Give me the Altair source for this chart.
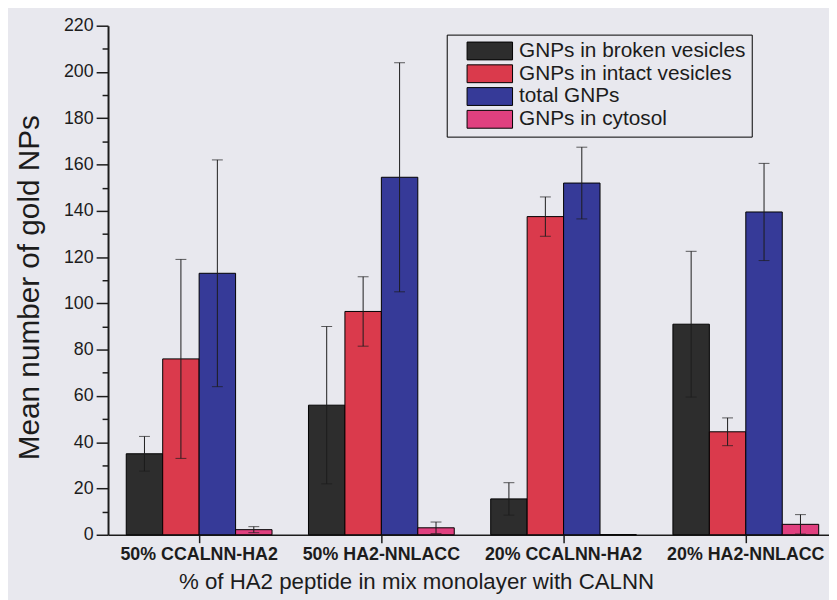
import altair as alt
import pandas as pd

groups = ["50% CCALNN-HA2", "50% HA2-NNLACC", "20% CCALNN-HA2", "20% HA2-NNLACC"]
series = ["GNPs in broken vesicles", "GNPs in intact vesicles", "total GNPs", "GNPs in cytosol"]
colors = ["#2d2d2d", "#da3a4c", "#363a98", "#e0407f"]

broken = [35, 56, 15.5, 91]
broken_err = [7.5, 34, 7, 31.5]
intact = [76, 96.5, 137.5, 44.5]
intact_err = [43, 15, 8.5, 6]
total = [113, 154.5, 152, 139.5]
total_err = [49, 49.5, 15.5, 21]
cytosol = [2.2, 3, 0, 4.5]
cytosol_err = [1.3, 2.5, 0, 4.2]

y_ticks = list(range(0, 221, 10))

rows = []
for s, vals, errs in zip(series, [broken, intact, total, cytosol],
                         [broken_err, intact_err, total_err, cytosol_err]):
    for g, v, e in zip(groups, vals, errs):
        rows.append({"group": g, "series": s, "value": v,
                     "low": v - e, "high": v + e, "err": e})
df = pd.DataFrame(rows)

BG = "#e8e8ee"
INK = "#1c1c1c"
FONT = "Liberation Sans"

x_enc = alt.X(
    "group:N", sort=groups,
    scale=alt.Scale(range=[0, 736], paddingInner=0.2, paddingOuter=0.1),
    axis=alt.Axis(
        title="% of HA2 peptide in mix monolayer with CALNN",
        labelAngle=0, labelFontWeight="bold", labelFontSize=18,
        labelColor=INK, labelPadding=3, labelOverlap=False,
        tickSize=8, tickColor=INK, tickWidth=1.5,
        domainColor=INK, domainWidth=1.5,
        titleFontSize=22.5, titleFontWeight="normal", titleColor=INK,
        titleX=311, titleY=54, titleAlign="center", titleBaseline="alphabetic",
    ),
)
xoff_enc = alt.XOffset("series:N", sort=series,
                       scale=alt.Scale(paddingInner=0, paddingOuter=0))

y_axis = alt.Axis(
    title="Mean number of gold NPs",
    values=y_ticks,
    labelExpr="datum.value % 20 === 0 ? datum.label : ''",
    tickSize={"condition": {"test": "datum.value % 20 === 0", "value": 12}, "value": 6},
    tickColor=INK, tickWidth=1.5, domainColor=INK, domainWidth=2,
    labelFontSize=18, labelColor=INK, labelPadding=3,
    titleFontSize=30, titleFontWeight="normal", titleColor=INK,
    titleX=-79, titleY=264, titleAlign="center", titleBaseline="middle", titleAngle=270,
    grid=False,
)
y_scale = alt.Scale(domain=[0, 220], nice=False)

bars = alt.Chart(df).mark_bar(stroke="black", strokeWidth=1).encode(
    x=x_enc,
    xOffset=xoff_enc,
    y=alt.Y("value:Q", scale=y_scale, axis=y_axis),
    fill=alt.Fill(
        "series:N", sort=series,
        scale=alt.Scale(domain=series, range=colors),
        legend=alt.Legend(
            title=None, orient="none", legendX=342, legendY=9,
            symbolType="M-2.55,-1L2.55,-1L2.55,1L-2.55,1Z", symbolSize=324,
            symbolStrokeColor="black", symbolStrokeWidth=1,
            symbolOffset=27, labelOffset=19,
            labelFontSize=21, labelColor=INK, labelFont=FONT, labelLimit=400,
            padding=6, rowPadding=0,
            strokeColor="black", fillColor=BG,
        ),
    ),
)

err_base = alt.Chart(df).transform_filter("datum.err > 0")
rules = err_base.mark_rule(color=INK, strokeWidth=1).encode(
    x=x_enc, xOffset=xoff_enc,
    y=alt.Y("low:Q", scale=y_scale, axis=y_axis), y2="high:Q",
)
caps_hi = err_base.mark_tick(color=INK, thickness=1, size=11).encode(
    x=x_enc, xOffset=xoff_enc,
    y=alt.Y("high:Q", scale=y_scale, axis=y_axis),
)
caps_lo = err_base.mark_tick(color=INK, thickness=1, size=11).encode(
    x=x_enc, xOffset=xoff_enc,
    y=alt.Y("low:Q", scale=y_scale, axis=y_axis),
)

chart = alt.layer(bars, rules, caps_hi, caps_lo).properties(
    width=728, height=514,
    padding={"left": 101, "top": 15, "right": 0, "bottom": 63},
    autosize=alt.AutoSizeParams(type="none"),
    background=BG,
).configure(font=FONT).configure_view(stroke=None)

chart.save("out.html", embed_options={"renderer": "svg", "actions": False})
